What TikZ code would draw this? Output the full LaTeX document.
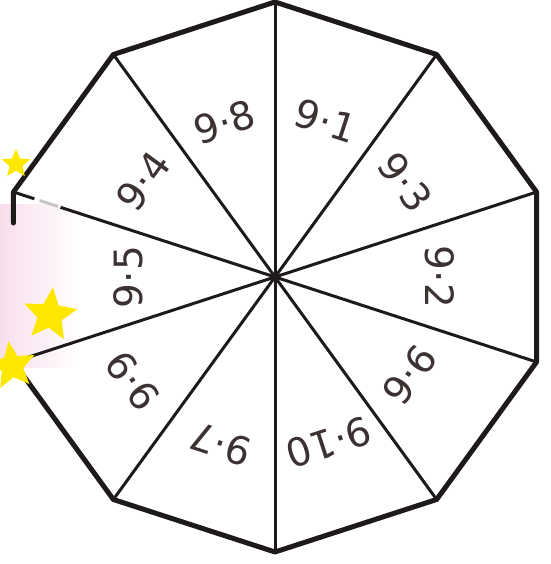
\documentclass[tikz,border=0pt]{standalone}
\usepackage{fontspec}
\newfontfamily\labelfont{DejaVu Sans}
\usetikzlibrary{calc,shapes.geometric,fadings}
\definecolor{inkline}{RGB}{30,26,26}
\definecolor{inkbrown}{RGB}{60,50,50}
\definecolor{staryellow}{RGB}{255,232,0}
\definecolor{smearpink}{RGB}{249,222,238}

\begin{document}
\begin{tikzpicture}[x=1pt,y=1pt,
  rim/.style={draw=inkline,line width=5pt,line join=round,line cap=round},
  spoke/.style={draw=inkline,line width=3pt},
  lbl/.style={text=inkbrown,inner sep=0pt,font=\labelfont\fontsize{39}{44}\selectfont},
  starry/.style={star,star points=5,star point ratio=2.2,fill=staryellow,inner sep=0pt}]
\path[use as bounding box] (0,0) rectangle (550,564);
% smear on the left
\fill[smearpink,path fading=east] (0,196) rectangle (80,360);
\coordinate (C) at (275,287);
\foreach \k in {0,...,9}
  \coordinate (v\k) at ($(C)+({90-36*\k}:275)$);
\coordinate (stub) at ($(v8)+(0,-31)$);
% spokes
\foreach \k in {0,...,7,9}
  \draw[spoke] (C) -- (v\k);
\draw[spoke] (C) -- ($(C)!0.82!(v8)$);
\draw[spoke,draw=gray!45] ($(C)!0.83!(v8)$) -- ($(C)!0.9!(v8)$);
\draw[spoke] ($(C)!0.92!(v8)$) -- (v8);
% rim
\draw[rim] (stub) -- (v8) -- (v9) -- (v0) -- (v1) -- (v2) -- (v3) -- (v4) -- (v5) -- (v6) -- (v7);
% labels
\foreach \ang/\rad/\txt [count=\i] in {72/164/9·1,36/161/9·3,0/165/9·2,-36/166/9·6,-72/174/9·10,
    -108/176/9·7,-144/176/9·9,180/147/9·5,144/163/9·4,108/163/9·8}
  \node[lbl,rotate=\ang-90] (lab\i) at ($(C)+(\ang:\rad)$) {\txt};
% stars
\node[starry,minimum size=30pt] (star1) at (16,400) {};
\node[starry,minimum size=56pt,rotate=-6] (star2) at (50,249) {};
\node[starry,minimum size=50pt,rotate=8] (star3) at (12,198) {};
\end{tikzpicture}
\end{document}
